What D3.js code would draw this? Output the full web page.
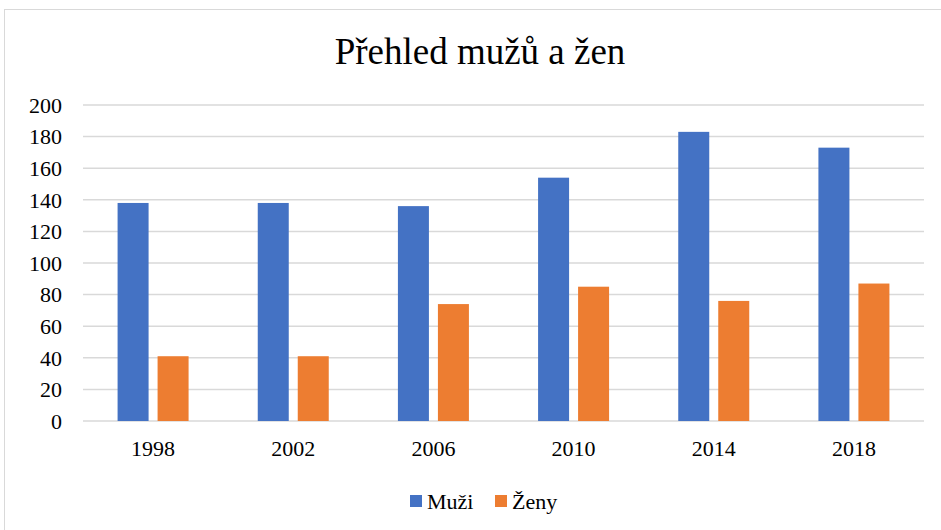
<!DOCTYPE html>
<html lang="cs">
<head>
    <meta charset="UTF-8">
    <title>Přehled mužů a žen</title>
    <script src="https://cdn.jsdelivr.net/npm/d3@7"></script>
    <style>
        body { margin: 0; background: #fff; }
    </style>
</head>
<body>
    <script>
        const width = 941;
        const height = 530;
        const fontFam = "'Times New Roman', 'Liberation Serif', 'DejaVu Serif', serif";

        // data
        const years = ['1998', '2002', '2006', '2010', '2014', '2018'];
        const series = ['Muži', 'Ženy'];
        const muzi = [138, 138, 136, 154, 183, 173];
        const zeny = [41, 41, 74, 85, 76, 87];
        const yTicks = [0, 20, 40, 60, 80, 100, 120, 140, 160, 180, 200];
        const colors = ['#4472C4', '#ED7D31'];

        const plot = { left: 83, right: 924, top: 105, bottom: 421 };

        const svg = d3.select('body').append('svg')
            .attr('width', width)
            .attr('height', height)
            .attr('font-family', fontFam);

        // chart frame
        svg.append('rect')
            .attr('x', 4.5).attr('y', 9.5)
            .attr('width', width - 4).attr('height', height)
            .attr('fill', '#fff')
            .attr('stroke', '#d9d9d9')
            .attr('stroke-width', 1);

        const x = d3.scaleBand()
            .domain(years)
            .range([plot.left, plot.right])
            .padding(0);

        const groupW = 71;
        const xs = d3.scaleBand()
            .domain(series)
            .range([0, groupW])
            .paddingInner(9 / 40)
            .paddingOuter(0);

        const y = d3.scaleLinear()
            .domain([0, 200])
            .range([plot.bottom, plot.top]);

        // gridlines
        svg.append('g')
            .selectAll('line')
            .data(yTicks)
            .enter()
            .append('line')
            .attr('x1', plot.left)
            .attr('x2', plot.right)
            .attr('y1', d => y(d))
            .attr('y2', d => y(d))
            .attr('stroke', '#d9d9d9')
            .attr('stroke-width', 1.5);

        // y labels
        svg.append('g')
            .selectAll('text')
            .data(yTicks)
            .enter()
            .append('text')
            .attr('x', 62)
            .attr('y', d => y(d))
            .attr('dy', '0.35em')
            .attr('text-anchor', 'end')
            .attr('font-family', fontFam)
            .attr('font-size', 22)
            .text(d => d);

        // bars
        const rows = years.map((yr, i) => ({ year: yr, vals: [muzi[i], zeny[i]] }));
        const groups = svg.append('g')
            .selectAll('g')
            .data(rows)
            .enter()
            .append('g')
            .attr('transform', d => 'translate(' + (x(d.year) + x.bandwidth() / 2 - groupW / 2) + ',0)');

        groups.selectAll('rect')
            .data(d => d.vals.map((v, j) => ({ key: series[j], v: v, c: colors[j] })))
            .enter()
            .append('rect')
            .attr('x', d => xs(d.key))
            .attr('width', xs.bandwidth())
            .attr('y', d => y(d.v))
            .attr('height', d => y(0) - y(d.v))
            .attr('fill', d => d.c);

        // x labels
        svg.append('g')
            .selectAll('text')
            .data(years)
            .enter()
            .append('text')
            .attr('x', d => x(d) + x.bandwidth() / 2)
            .attr('y', 456)
            .attr('text-anchor', 'middle')
            .attr('font-family', fontFam)
            .attr('font-size', 22)
            .text(d => d);

        // title
        svg.append('text')
            .attr('x', 480)
            .attr('y', 64)
            .attr('text-anchor', 'middle')
            .attr('font-family', fontFam)
            .attr('font-size', 37)
            .text('Přehled mužů a žen');

        // legend
        const legendX = [410, 495];
        const legend = svg.append('g')
            .selectAll('g')
            .data(series)
            .enter()
            .append('g')
            .attr('transform', (d, i) => 'translate(' + legendX[i] + ',495)');
        legend.append('rect')
            .attr('width', 12).attr('height', 12)
            .attr('fill', (d, i) => colors[i]);
        legend.append('text')
            .attr('x', 17)
            .attr('y', 6)
            .attr('dy', '0.35em')
            .attr('font-family', fontFam)
            .attr('font-size', 22)
            .text(d => d);
    </script>
</body>
</html>
